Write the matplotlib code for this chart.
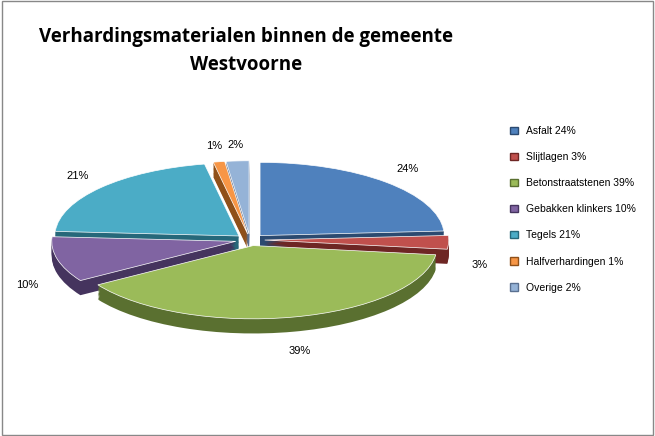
import matplotlib
matplotlib.use("Agg")
import matplotlib.pyplot as plt
import numpy as np
from matplotlib.patches import Rectangle

labels = ["Asfalt", "Slijtlagen", "Betonstraatstenen", "Gebakken klinkers", "Tegels", "Halfverhardingen", "Overige"]
values = [24, 3, 39, 10, 21, 1, 2]
colors = ["#4F81BD", "#C0504D", "#9BBB59", "#8064A2", "#4BACC6", "#F79646", "#95B3D7"]
dark = ["#2B4A70", "#6E2624", "#5A7030", "#45345E", "#26687A", "#8F5019", "#5A7090"]
explode = [0.08] * 7

fig = plt.figure(figsize=(6.55, 4.36), dpi=100)
fig.patches.append(Rectangle((0.003, 0.003), 0.994, 0.994, transform=fig.transFigure,
                             fill=False, edgecolor="#888888", lw=1))
fig.text(0.375, 0.915, "Verhardingsmaterialen binnen de gemeente", ha="center", va="center",
         fontsize=13.5, fontweight="bold", family="Open Sans")
fig.text(0.375, 0.85, "Westvoorne", ha="center", va="center",
         fontsize=13.5, fontweight="bold", family="Open Sans")

ax = fig.add_axes([20/655, 46/436, 460/655, 260/436])
depth = 0.2
for k in np.linspace(depth, 0.01, 12):
    ax.pie(values, colors=dark, explode=explode, startangle=90, counterclock=False,
           center=(0, -k), wedgeprops=dict(linewidth=0))
w, t, at = ax.pie(values, colors=colors, explode=explode, startangle=90, counterclock=False,
                  autopct="%d%%", pctdistance=1.17,
                  wedgeprops=dict(linewidth=0.5, edgecolor="white"),
                  textprops=dict(fontsize=8, family="Liberation Sans"))
ax.set_aspect("auto")
ax.set_xlim(-1.25, 1.25)
ax.set_ylim(-2.05, 1.5)
ax.axis("off")
for a in at:
    x, y = a.get_position()
    a.set_position((x, y + 0.05 if y > 0 else y - 0.3))

handles = [Rectangle((0, 0), 1, 1, facecolor=c, edgecolor=d) for c, d in zip(colors, dark)]
fig.legend(handles, [f"{l} {v}%" for l, v in zip(labels, values)], loc="center left",
           bbox_to_anchor=(0.765, 0.52), frameon=False,
           handlelength=0.7, handleheight=0.7, labelspacing=1.55,
           prop=dict(family="Liberation Sans", size=7.5))
fig.savefig("out.png", dpi=100)
